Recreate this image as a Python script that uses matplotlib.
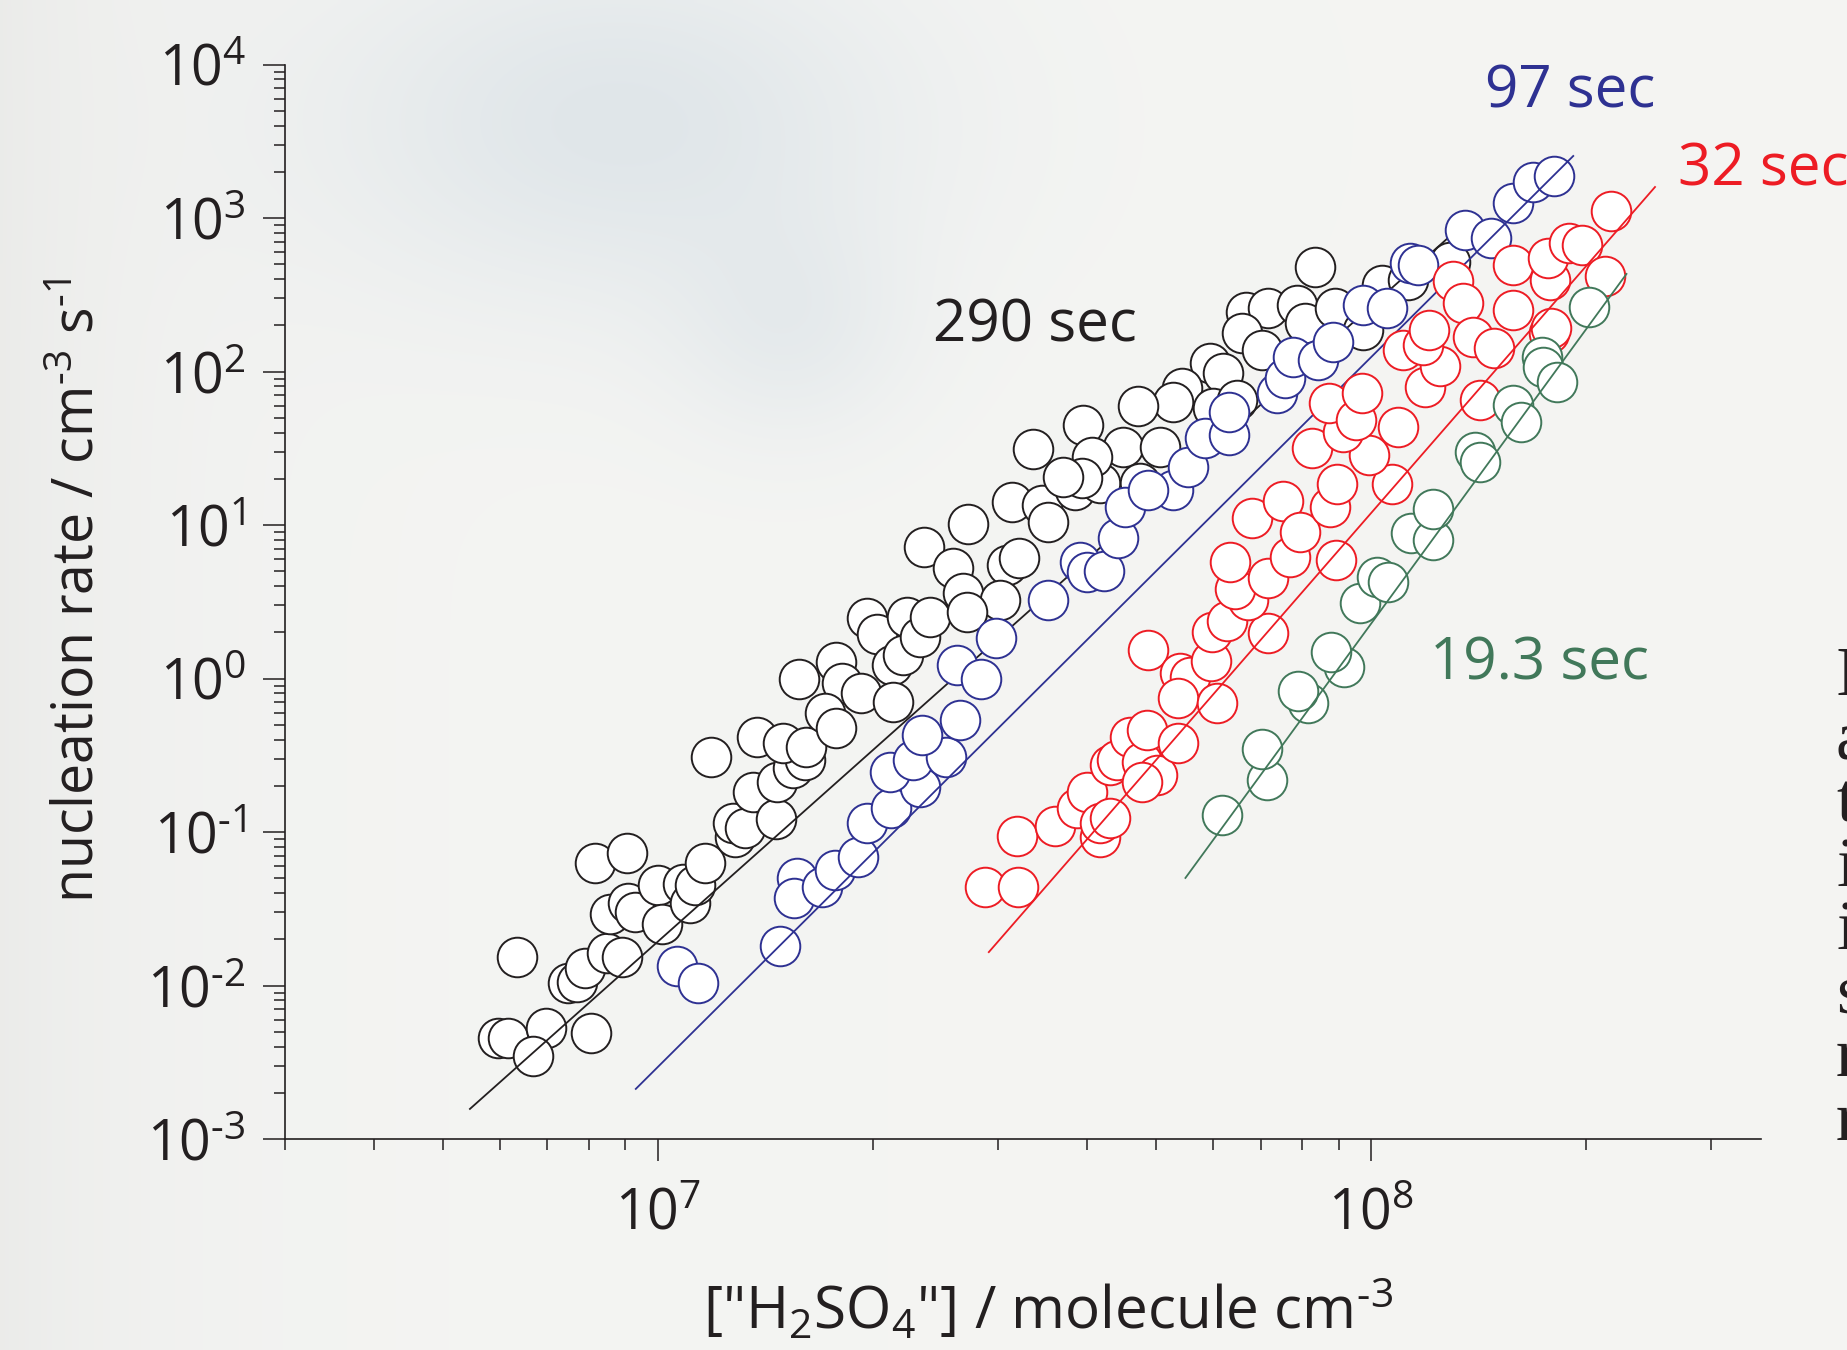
import numpy as np
import matplotlib
matplotlib.use('Agg')
import matplotlib.pyplot as plt
from matplotlib import font_manager as fm
from matplotlib.ticker import LogLocator, NullFormatter


def pick(*names):
    # first installed family out of the list
    for n in names:
        try:
            fm.findfont(fm.FontProperties(family=n), fallback_to_default=False)
            return n
        except ValueError:
            pass
    return 'DejaVu Sans'


SANS = pick('Open Sans', 'Lato', 'DejaVu Sans')
SERIF = pick('Liberation Serif', 'DejaVu Serif')
HY = '\u2010'  # short hyphen for the exponents, as in the original

# ---- data: ["H2SO4"] (molecule cm-3) vs nucleation rate (cm-3 s-1) ----
# 290 sec
black_x = [5.97e6, 6.16e6, 6.97e6, 6.68e6, 8.05e6, 6.34e6, 7.48e6, 7.70e6, 7.90e6, 8.48e6,
           8.90e6, 8.16e6, 9.05e6, 8.56e6, 9.08e6, 9.28e6, 1.00e7, 1.013e7, 1.084e7, 1.109e7,
           1.127e7, 1.164e7, 1.282e7, 1.274e7, 1.324e7, 1.359e7, 1.464e7, 1.469e7, 1.547e7, 1.608e7,
           1.187e7, 1.377e7, 1.497e7, 1.613e7, 1.577e7, 1.777e7, 1.811e7, 1.715e7, 1.777e7, 1.927e7,
           1.964e7, 2.028e7, 2.235e7, 2.129e7, 2.206e7, 2.136e7, 2.331e7, 2.407e7, 2.361e7, 2.593e7,
           2.678e7, 2.722e7, 3.137e7, 3.456e7, 3.524e7, 3.845e7, 4.169e7, 3.086e7, 3.209e7, 3.017e7,
           2.713e7, 8.35e7, 6.68e7, 7.17e7, 7.87e7, 8.08e7, 8.90e7, 6.59e7, 7.03e7, 5.95e7,
           6.20e7, 5.43e7, 5.28e7, 4.71e7, 3.95e7, 3.36e7, 4.49e7, 4.06e7, 3.93e7, 3.70e7,
           5.06e7, 6.00e7, 6.49e7, 9.74e7, 1.036e8, 1.127e8, 4.74e7, 1.29e8]
black_y = [0.00455, 0.00455, 0.00528, 0.00347, 0.00490, 0.0153, 0.0104, 0.0105, 0.0130, 0.0163,
           0.0153, 0.0628, 0.0729, 0.0292, 0.0345, 0.0301, 0.0452, 0.0252, 0.0458, 0.0345,
           0.0452, 0.0628, 0.0927, 0.1145, 0.106, 0.182, 0.122, 0.212, 0.261, 0.294,
           0.308, 0.416, 0.380, 0.358, 0.992, 1.28, 0.935, 0.596, 0.476, 0.804,
           2.48, 1.95, 2.52, 1.22, 1.42, 0.703, 1.86, 2.52, 7.19, 5.25,
           3.61, 10.1, 14.1, 13.5, 10.5, 16.9, 18.8, 5.49, 6.10, 3.25,
           2.71, 480, 244, 259, 271, 207, 259, 178, 138, 114,
           97.7, 78.1, 63.3, 59.6, 44.8, 31.3, 32.2, 27.7, 20.2, 20.5,
           32.2, 57.8, 65.2, 186, 366, 395, 18.8, 517]

# 97 sec
blue_x = [1.063e7, 1.138e7, 1.483e7, 1.566e7, 1.551e7, 1.698e7, 1.771e7, 1.908e7, 1.964e7, 2.122e7,
          2.331e7, 2.115e7, 2.279e7, 2.535e7, 2.346e7, 2.652e7, 2.627e7, 2.838e7, 2.979e7, 3.524e7,
          3.907e7, 3.996e7, 4.223e7, 4.418e7, 4.519e7, 5.28e7, 4.866e7, 5.54e7, 5.85e7, 6.32e7,
          6.32e7, 7.38e7, 7.57e7, 7.77e7, 8.43e7, 8.84e7, 9.74e7, 1.053e8, 1.134e8, 1.164e8,
          1.355e8, 1.474e8, 1.582e8, 1.687e8, 1.806e8]
blue_y = [0.0134, 0.0104, 0.0181, 0.0502, 0.0372, 0.0438, 0.0565, 0.0687, 0.1145, 0.143,
          0.197, 0.246, 0.294, 0.308, 0.429, 0.537, 1.22, 0.992, 1.84, 3.25,
          5.74, 4.94, 5.01, 8.23, 13.1, 16.9, 16.9, 23.9, 36.9, 38.6,
          54.5, 72.4, 90.7, 124, 119, 156, 271, 259, 509, 494,
          835, 741, 1252, 1716, 1878]

# 32 sec
red_x = [2.875e7, 3.198e7, 3.188e7, 3.605e7, 3.870e7, 3.996e7, 4.169e7, 4.169e7, 4.305e7, 4.305e7,
         4.404e7, 4.592e7, 4.773e7, 4.851e7, 5.01e7, 4.773e7, 5.36e7, 4.866e7, 5.40e7, 5.57e7,
         5.36e7, 6.08e7, 5.97e7, 5.98e7, 6.28e7, 7.17e7, 6.72e7, 6.45e7, 6.34e7, 7.17e7,
         7.70e7, 6.81e7, 7.53e7, 7.95e7, 8.76e7, 8.93e7, 8.96e7, 1.070e8, 8.27e7, 9.94e7,
         9.14e7, 8.73e7, 9.53e7, 9.71e7, 1.091e8, 1.191e8, 1.250e8, 1.109e8, 1.183e8, 1.206e8,
         1.303e8, 1.346e8, 1.390e8, 1.488e8, 1.422e8, 1.582e8, 1.777e8, 1.789e8, 1.582e8, 1.783e8,
         1.771e8, 1.895e8, 1.977e8, 2.129e8, 2.171e8]
red_y = [0.0438, 0.0438, 0.0942, 0.109, 0.143, 0.182, 0.0927, 0.1145, 0.123, 0.273,
         0.294, 0.416, 0.286, 0.462, 0.235, 0.212, 0.380, 1.53, 1.09, 1.02,
         0.746, 0.692, 1.30, 2.01, 2.37, 1.98, 3.25, 3.83, 5.74, 4.52,
         6.19, 11.1, 14.3, 9.0, 13.1, 5.92, 18.5, 18.5, 31.7, 28.6,
         40.4, 62.3, 48.3, 72.4, 43.5, 79.3, 109, 138, 149, 186,
         389, 279, 168, 142, 65.2, 252, 178, 192, 494, 395,
         549, 687, 667, 419, 1111]

# 19.3 sec
green_x = [6.18e7, 7.15e7, 7.03e7, 8.16e7, 7.90e7, 9.17e7, 8.79e7, 9.65e7, 1.020e8, 1.056e8,
           1.138e8, 1.222e8, 1.222e8, 1.399e8, 1.422e8, 1.582e8, 1.623e8, 1.737e8, 1.743e8, 1.824e8,
           2.021e8]
green_y = [0.129, 0.218, 0.347, 0.692, 0.829, 1.19, 1.49, 3.10, 4.58, 4.25,
           8.87, 7.99, 12.7, 29.9, 25.7, 60.5, 46.9, 124, 107, 85.4,
           263]

# fitted power laws (end points)
black_fit_x, black_fit_y = [5.45e6, 1.30e8], [1.57e-3, 787]
blue_fit_x, blue_fit_y = [9.31e6, 1.92e8], [2.12e-3, 2535]
red_fit_x, red_fit_y = [2.91e7, 2.50e8], [1.65e-2, 1592]
green_fit_x, green_fit_y = [5.49e7, 2.28e8], [5.02e-2, 432]

labels = ['290 sec', '97 sec', '32 sec', '19.3 sec']
colors = ['#231f20', '#2e3192', '#ed1c24', '#41785a']

x_ticks = [1e7, 1e8]
x_exps = ['7', '8']
y_ticks = [1e-3, 1e-2, 1e-1, 1e0, 1e1, 1e2, 1e3, 1e4]
y_exps = [HY + '3', HY + '2', HY + '1', '0', '1', '2', '3', '4']

side_letters = ['I', 'a', 't', 'i', 'i', 's', 'r', 'r']

# ---- figure ----
W, H = 1847, 1350
fig = plt.figure(figsize=(W / 100, H / 100), dpi=100)
fig.patch.set_facecolor('#f4f5f3')

# soft bluish cloud in the background
yy, xx = np.mgrid[0:H:5, 0:W:5]
base = np.array([0.957, 0.959, 0.952])
cloud = np.array([0.860, 0.890, 0.908])
w = 0.80 * np.exp(-(((xx - 620) / 290) ** 2 + ((yy - 120) / 180) ** 2))
w += 0.45 * np.exp(-(((xx - 790) / 120) ** 2 + ((yy - 330) / 110) ** 2))
w = np.clip(w, 0, 1)[..., None]
img = base * (1 - w) + cloud * w
img -= (0.035 * np.exp(-xx / 160))[..., None]
bg = fig.add_axes([0, 0, 1, 1], zorder=-10)
bg.imshow(np.clip(img, 0, 1), extent=[0, 1, 0, 1], aspect='auto',
          interpolation='bilinear', origin='upper')
bg.axis('off')

ax = fig.add_axes([285 / W, 1 - 1139 / H, (1761 - 285) / W, (1139 - 64.5) / H])
ax.set_facecolor('none')

series = [
    (black_x, black_y, black_fit_x, black_fit_y),
    (blue_x, blue_y, blue_fit_x, blue_fit_y),
    (red_x, red_y, red_fit_x, red_fit_y),
    (green_x, green_y, green_fit_x, green_fit_y),
]
for i, (sx, sy, fx, fy) in enumerate(series):
    c = colors[i]
    ax.plot(sx, sy, 'o', ms=28.5, mfc='white', mec=c, mew=1.4,
            zorder=3 + 2 * i, clip_on=False)
    ax.plot(fx, fy, '-', color=c, lw=1.3, zorder=4 + 2 * i)

ax.set_xscale('log')
ax.set_yscale('log')
ax.set_xlim(3.0e6, 3.52e8)
ax.set_ylim(1e-3, 1e4)

ax.set_xticks(x_ticks, labels=[r'$\mathregular{10^{%s}}$' % e for e in x_exps],
              fontsize=40, family=SANS, color='#231f20')
ax.set_yticks(y_ticks, labels=[r'$\mathregular{10^{%s}}$' % e for e in y_exps],
              fontsize=40, family=SANS, color='#231f20')
ax.xaxis.set_minor_locator(LogLocator(base=10, subs=np.arange(2, 10), numticks=20))
ax.yaxis.set_minor_locator(LogLocator(base=10, subs=np.arange(2, 10), numticks=20))
ax.xaxis.set_minor_formatter(NullFormatter())
ax.yaxis.set_minor_formatter(NullFormatter())

ax.tick_params(which='major', direction='out', length=16, width=1.1, color='#231f20')
ax.tick_params(which='minor', direction='out', length=8, width=1.1, color='#231f20')
ax.tick_params(axis='x', which='major', pad=18)
ax.tick_params(axis='y', which='major', pad=12)

for s in ['top', 'right']:
    ax.spines[s].set_visible(False)
for s in ['left', 'bottom']:
    ax.spines[s].set_linewidth(1.2)
    ax.spines[s].set_color('#231f20')

# axis titles
fig.text(108 / W, 1 - 590 / H,
         r'nucleation rate / cm$\mathregular{^{%s3}}$ s$\mathregular{^{%s1}}$' % (HY, HY),
         rotation=90, ha='right', va='center', fontsize=40, family=SANS, color='#231f20')
fig.text(703 / W, 1 - 1330 / H,
         r'["H$\mathregular{_2}$SO$\mathregular{_4}$"] / molecule cm$\mathregular{^{%s3}}$' % HY,
         ha='left', va='baseline', fontsize=42, family=SANS, color='#231f20')

# series labels
label_pos = [(933, 341), (1485, 108), (1678, 185), (1430, 680)]
for (px, py), t, c in zip(label_pos, labels, colors):
    fig.text(px / W, 1 - py / H, t, ha='left', va='baseline',
             fontsize=42, family=SANS, color=c)

# cut-off letters from the neighbouring text column (they run off the right edge)
for k, ch in enumerate(side_letters):
    fig.text(1836 / W, 1 - (695 + 63.5 * k) / H, ch, ha='left', va='baseline',
             fontsize=50, family=SERIF, color='#231f20')

fig.savefig('out.png', dpi=100, facecolor=fig.get_facecolor())
